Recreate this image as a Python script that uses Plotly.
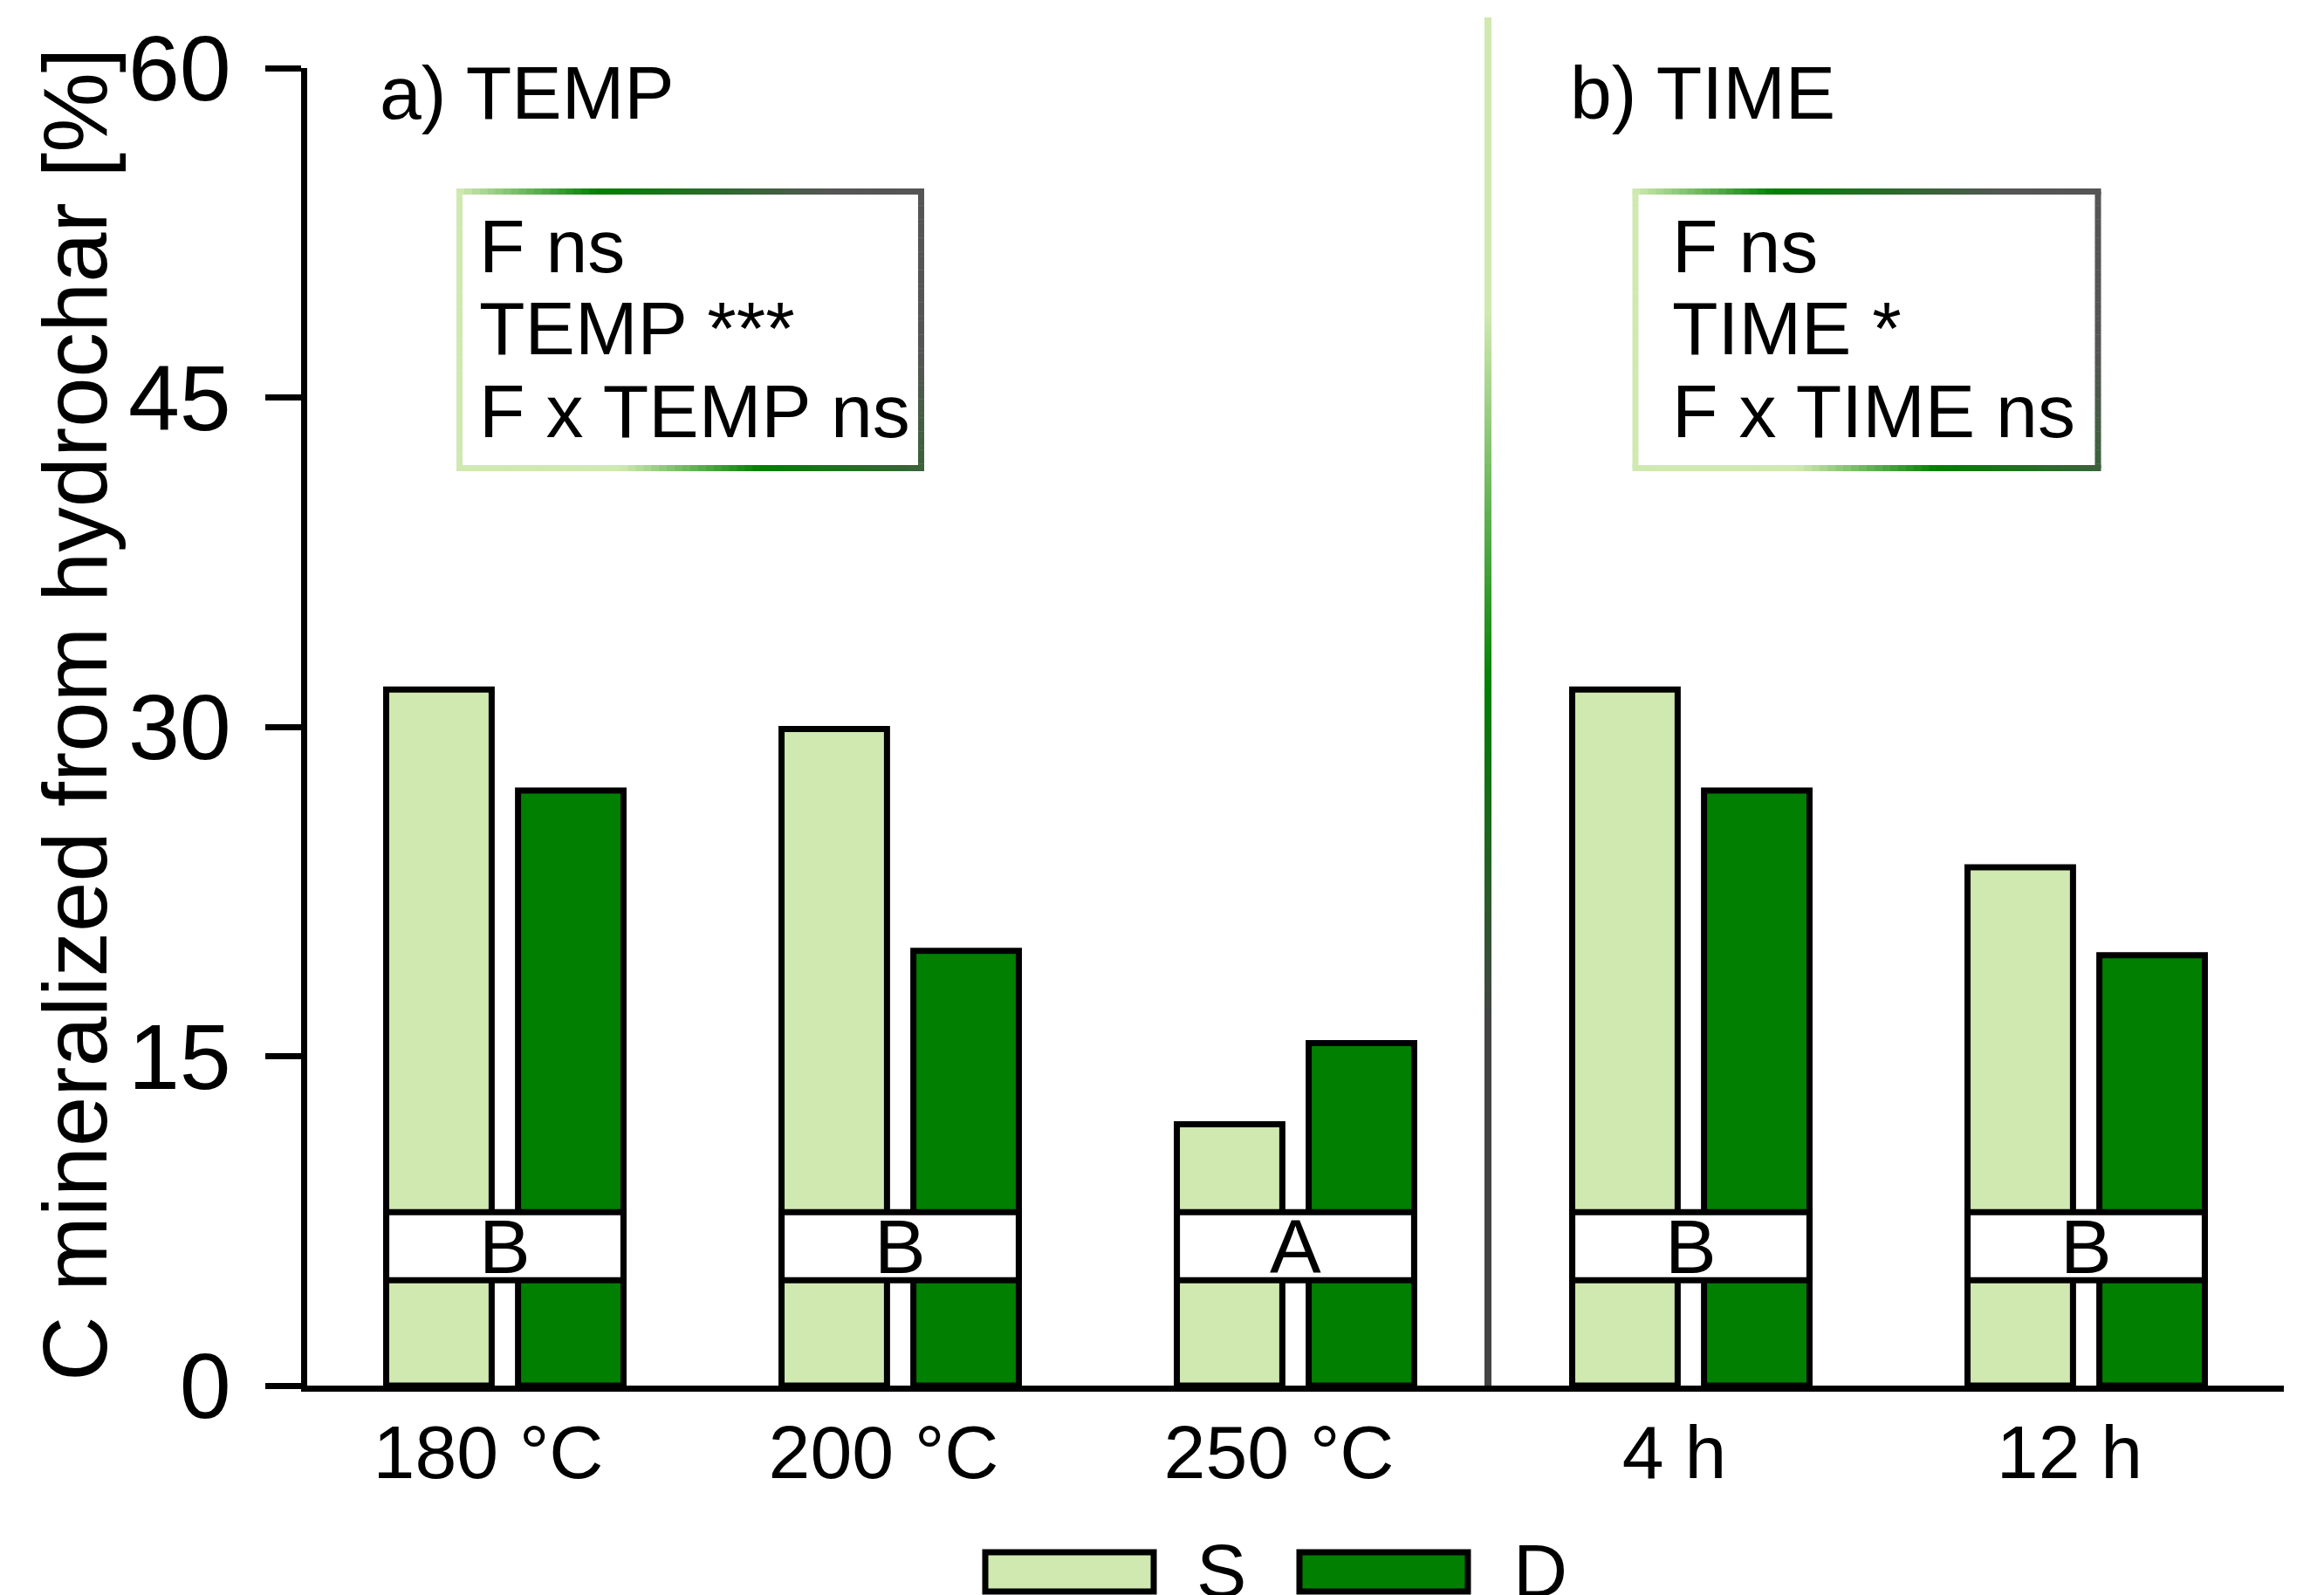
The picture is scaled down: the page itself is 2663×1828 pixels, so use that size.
import plotly.graph_objects as go

# ---------------- data ----------------
categories = ["180 °C", "200 °C", "250 °C", "4 h", "12 h"]
s_values = [31.7, 29.9, 11.9, 31.7, 23.6]
d_values = [27.1, 19.8, 15.6, 27.1, 19.6]
group_letters = ["B", "B", "A", "B", "B"]
series_names = ["S", "D"]
y_ticks = [0, 15, 30, 45, 60]
panel_titles = ["a) TEMP", "b) TIME"]
stats_temp = ["F ns", "TEMP ***", "F x TEMP ns"]
stats_time = ["F ns", "TIME *", "F x TIME ns"]
y_title = "C mineralized from hydrochar [%]"

# ---------------- style ----------------
FONT = "Liberation Sans, Arial, sans-serif"
LIGHT = "#cfe9b0"
GREEN = "#007f00"
W, H = 2663, 1828
OFF = 8  # default page body margin
PL, PR, PT, PB = 352, 2617, 78, 1588
LW = 7


def px(xp):
    return (xp - PL) / (PR - PL)


def py(yp):
    return (PB - yp) / (PB - PT)


def h2rgb(h):
    h = h.lstrip("#")
    return tuple(int(h[i:i + 2], 16) for i in (0, 2, 4))


def interp(stops, t):
    if t <= stops[0][0]:
        c = h2rgb(stops[0][1])
    elif t >= stops[-1][0]:
        c = h2rgb(stops[-1][1])
    else:
        for (a, ca), (b, cb) in zip(stops[:-1], stops[1:]):
            if a <= t <= b:
                f = (t - a) / (b - a)
                A, B = h2rgb(ca), h2rgb(cb)
                c = tuple(round(A[k] + (B[k] - A[k]) * f) for k in range(3))
                break
    return "rgb(%d,%d,%d)" % c


xs = list(range(len(categories)))

fig = go.Figure()
fig.add_trace(go.Bar(x=xs, y=s_values, name=series_names[0],
                     marker=dict(color=LIGHT, line=dict(color="black", width=LW))))
fig.add_trace(go.Bar(x=xs, y=d_values, name=series_names[1],
                     marker=dict(color=GREEN, line=dict(color="black", width=LW))))

shapes = []
annotations = []

# letter boxes over bars
for i, letter in enumerate(group_letters):
    shapes.append(dict(type="rect", xref="x", yref="y", x0=i - 0.3, x1=i + 0.3,
                       y0=4.8, y1=7.9, fillcolor="white",
                       line=dict(color="black", width=LW), layer="above"))
    annotations.append(dict(x=i, y=6.35, xref="x", yref="y", text=letter,
                            showarrow=False, font=dict(size=88, color="black", family=FONT),
                            xanchor="center", yanchor="middle"))

# divider with vertical gradient
div_stops = [(20, LIGHT), (360, LIGHT), (790, "#008000"), (1170, "#444444"), (1588, "#444444")]
DX = 1705
y = 20
step = 8
while y < 1588:
    y2 = min(y + step, 1588)
    col = interp(div_stops, (y + y2) / 2)
    shapes.append(dict(type="line", xref="paper", yref="paper",
                       x0=px(DX), x1=px(DX), y0=py(y), y1=py(y2 + 1),
                       line=dict(color=col, width=8), layer="below"))
    y = y2

# gradient-bordered stats boxes
box_stops = [(0.2, LIGHT), (0.5, "#008000"), (1.0, "#555555")]


def grad_box(x0, y0, x1, y1):
    half = 3.5
    edges = [((x0 - half, y0), (x1 + half, y0)),
             ((x1, y0), (x1, y1)),
             ((x1 + half, y1), (x0 - half, y1)),
             ((x0, y1), (x0, y0))]
    for (ax, ay), (bx, by) in edges:
        n = 60
        for k in range(n):
            sx = ax + (bx - ax) * k / n
            sy = ay + (by - ay) * k / n
            ex = ax + (bx - ax) * (k + 1.08) / n if k < n - 1 else bx
            ey = ay + (by - ay) * (k + 1.08) / n if k < n - 1 else by
            mx, my = (sx + ex) / 2, (sy + ey) / 2
            u = (mx - x0) / (x1 - x0)
            v = (y1 - my) / (y1 - y0)
            t = -0.15 + u + 0.35 * v
            shapes.append(dict(type="line", xref="paper", yref="paper",
                               x0=px(sx), x1=px(ex), y0=py(sy), y1=py(ey),
                               line=dict(color=interp(box_stops, t), width=7),
                               layer="above"))


grad_box(526.5, 219.5, 1055.5, 536.5)
grad_box(1874, 219.5, 2404, 536.5)

# panel titles
for title, xp in zip(panel_titles, [433, 1797]):
    annotations.append(dict(x=px(xp), y=py(106), xref="paper", yref="paper", text=title,
                            showarrow=False, font=dict(size=86, color="black", family=FONT),
                            xanchor="left", yanchor="middle"))

# stats text
for lines, xp in [(stats_temp, 547), (stats_time, 1914)]:
    for line, yp in zip(lines, [282, 376, 471]):
        annotations.append(dict(x=px(xp), y=py(yp), xref="paper", yref="paper", text=line,
                                showarrow=False, font=dict(size=86, color="black", family=FONT),
                                xanchor="left", yanchor="middle"))

# y-axis title
annotations.append(dict(x=px(86), y=py(819), xref="paper", yref="paper", text=y_title,
                        textangle=-90, showarrow=False,
                        font=dict(size=103, color="black", family=FONT),
                        xanchor="center", yanchor="middle"))

# custom legend
for name, col, sx, tx in [(series_names[0], LIGHT, 1126, 1373), (series_names[1], GREEN, 1486, 1736)]:
    shapes.append(dict(type="rect", xref="paper", yref="paper",
                       x0=px(sx + 3), x1=px(sx + 196), y0=py(1779), y1=py(1824),
                       fillcolor=col, line=dict(color="black", width=LW), layer="above"))
    annotations.append(dict(x=px(tx - 4), y=py(1800), xref="paper", yref="paper", text=name,
                            showarrow=False, font=dict(size=86, color="black", family=FONT),
                            xanchor="left", yanchor="middle"))

fig.update_layout(
    width=W - OFF, height=H - OFF,
    margin=dict(l=PL - OFF, r=W - PR, t=PT - OFF, b=H - PB, pad=0),
    paper_bgcolor="white", plot_bgcolor="white",
    barmode="group", bargap=0.333, bargroupgap=0.2,
    showlegend=False,
    font=dict(family=FONT, color="black"),
    shapes=shapes, annotations=annotations,
    xaxis=dict(range=[-0.5, 4.5], tickvals=xs, ticktext=categories, showline=True,
               linecolor="black", linewidth=LW, ticks="", showgrid=False, zeroline=False,
               tickfont=dict(size=86, color="black", family=FONT),
               ticklabelstandoff=-4, ticklabelshift=-19),
    yaxis=dict(range=[0, 60], tickvals=y_ticks, showline=True, linecolor="black",
               linewidth=LW, ticks="outside", ticklen=41, tickwidth=LW, tickcolor="black",
               showgrid=False, zeroline=False,
               tickfont=dict(size=106, color="black", family=FONT), ticklabelstandoff=18),
)

fig.write_html("out.html")
